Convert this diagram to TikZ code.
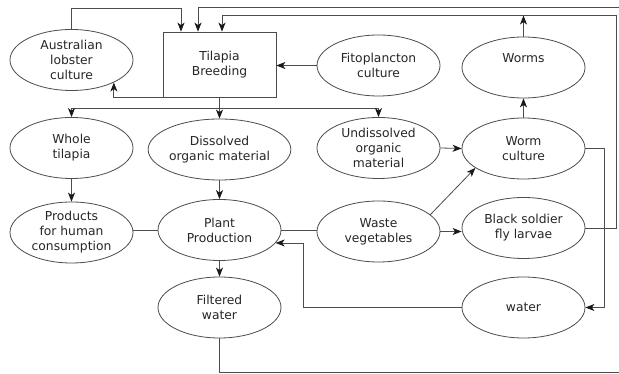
\documentclass[tikz,border=0pt]{standalone}
\usepackage{fontspec}
\setmainfont{DejaVu Sans}
\usepackage{tikz}
\usetikzlibrary{shapes.geometric,arrows.meta,calc}

\tikzset{
	blob/.style={ellipse, draw=black!70, line width=0.8pt, minimum width=123pt,
		minimum height=61pt, inner sep=0pt, align=center, text=black!85,
		font=\fontsize{12.3}{15}\selectfont},
	tank/.style={rectangle, draw=black!70, line width=0.8pt, minimum width=113pt,
		minimum height=65pt, inner sep=0pt, align=center, text=black!85,
		font=\fontsize{12.3}{15}\selectfont},
	link/.style={draw=black!70, line width=0.8pt},
	flow/.style={link, -{Stealth[length=9pt,width=7pt,inset=2.5pt,color=black!90]}}
}

\begin{document}
\begin{tikzpicture}[x=1pt, y=1pt]

	\useasboundingbox [fill=white] (0, 0) rectangle (619, 374);

	% first row
	\node [blob] (lobster) at (71.5, 314) {Australian\\lobster\\culture};
	\node [tank] (tilapia) at (219.5, 309.5) {Tilapia\\Breeding};
	\node [blob] (fito) at (378.5, 308.5) {Fitoplancton\\culture};
	\node [blob] (worms) at (523.5, 306.5) {Worms\\\strut};

	% second row
	\node [blob] (whole) at (71.5, 226) {Whole\\tilapia};
	\node [blob] (dissolved) at (219.5, 224.5) {Dissolved\\organic material};
	\node [blob] (undiss) at (378.5, 226) {Undissolved\\organic\\material};
	\node [blob] (wormc) at (523.5, 225.5) {Worm\\culture};

	% third row
	\node [blob] (products) at (71.5, 141.5) {Products\\for human\\consumption};
	\node [blob] (plant) at (219.5, 144) {Plant\\Production};
	\node [blob] (waste) at (378.5, 142.5) {Waste\\vegetables};
	\node [blob] (bsf) at (523.5, 146) {Black soldier\\fly larvae};

	% fourth row
	\node [blob] (filtered) at (219.5, 66.5) {Filtered\\water};
	\node [blob] (water) at (523.5, 66.5) {water};

	\coordinate (split) at ($(tilapia.south) + (0, -11)$);
	\coordinate (ring) at (616.5, 358.5);
	\coordinate (rtop) at (619, 367);
	\coordinate (rbot) at (619, 1.5);

	\draw [flow] (lobster.north) -- ++(0, 21) -| ([xshift=-38.5]tilapia.north);
	\draw [flow] (rtop) -| ([xshift=-21.5]tilapia.north);
	\draw [flow] (bsf.east) -| (ring) -| ([xshift=2.5]tilapia.north);
	\draw [flow] (worms.north) -- (worms.north |- ring);
	\draw [flow] (fito.west) -- (fito.west -| tilapia.east);
	\draw [flow] (tilapia.south west) -| (lobster.-28);

	\draw [link] (tilapia.south) -- (split);
	\draw [flow] (split) -| (whole.north);
	\draw [flow] (split) -- (dissolved.north);
	\draw [flow] (split) -| (undiss.north);

	\draw [flow] (undiss.east) -- (wormc.west);
	\draw [flow] (wormc.north) -- (worms.south);
	\draw [flow] (whole.south) -- (products.north);
	\draw [flow] (dissolved.south) -- (plant.north);

	\draw [link] (plant.west) -- (plant.west -| products.east);
	\draw [link] (plant.east) -- (plant.east -| waste.west);
	\draw [flow] (waste.18) -- (wormc.202);
	\draw [flow] (waste.east) -- (waste.east -| bsf.west);

	\draw [flow] (wormc.east) -- ++(19, 0) |- (water.east);
	\draw [flow] (water.west) -- ++(-158, 0) |- (plant.-13.8);
	\draw [flow] (plant.south) -- (filtered.north);
	\draw [link] (filtered.south) |- (rbot);

\end{tikzpicture}
\end{document}
